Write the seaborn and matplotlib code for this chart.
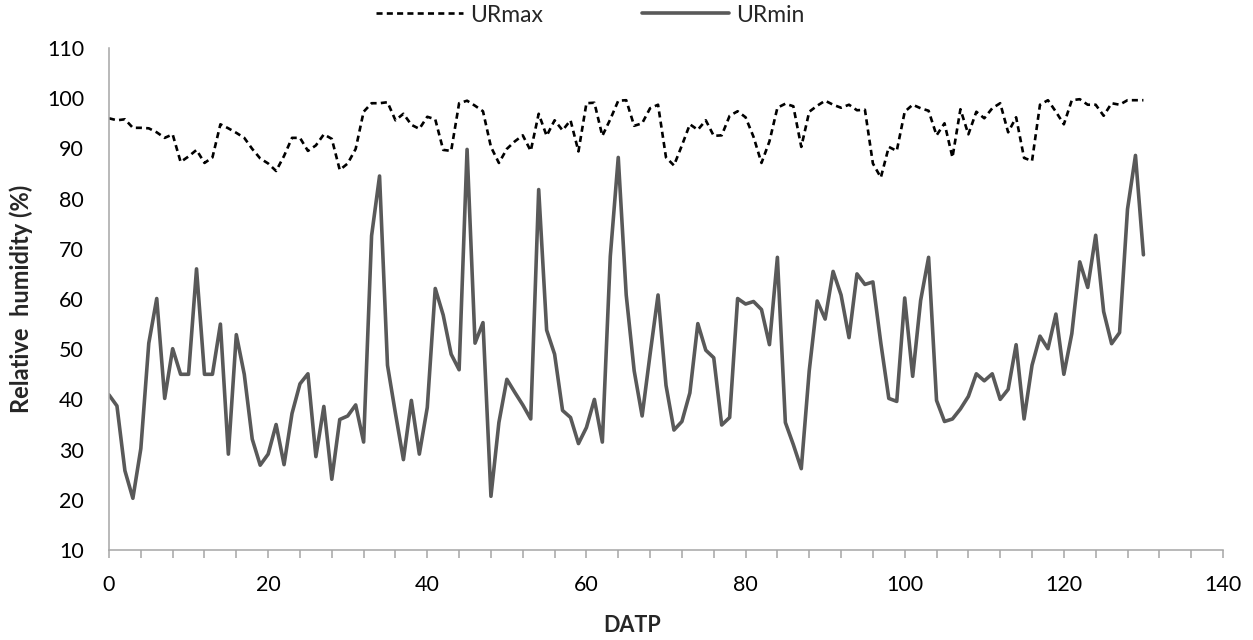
import numpy as np
import pandas as pd
import matplotlib
matplotlib.use("Agg")
import matplotlib.pyplot as plt
from matplotlib.ticker import MultipleLocator
import seaborn as sns

# days after transplanting
datp = list(range(0, 131))

ur_max = [
    96, 95.6, 95.8, 94.1, 94.1, 94, 93.2, 92.1, 92.8, 87.3,
    88.4, 89.7, 87.1, 88.2, 94.8, 94, 93.1, 92.1, 89.9, 88,
    87, 85.5, 88.5, 92.1, 92.1, 89.5, 90.6, 92.8, 91.9, 85.7,
    87, 89.9, 97.3, 99, 99, 99.2, 95.6, 96.9, 94.7, 93.9,
    96.3, 95.8, 89.7, 89.5, 99, 99.5, 98.5, 97.4, 90.3, 87.1,
    89.9, 91.4, 92.6, 89.5, 96.9, 92.5, 95.6, 93.6, 95.6, 89.4,
    99, 99.1, 92.5, 95.8, 99.5, 99.6, 94.5, 95, 98, 98.7,
    88.2, 86.6, 90.6, 94.8, 93.7, 95.6, 92.5, 92.6, 96.5, 97.4,
    96.2, 92.3, 87.1, 91.4, 98.1, 98.9, 98.4, 90.3, 97.3, 98.5,
    99.5, 98.7, 98.1, 98.7, 97.6, 97.7, 87, 84.2, 90.3, 89.5,
    97.3, 98.7, 98, 97.5, 92.6, 95, 88.2, 97.8, 92.8, 97.3,
    96, 98, 99, 93.2, 96.2, 88.1, 87.5, 98.7, 99.6, 97.3,
    94.8, 99.6, 99.8, 98.7, 98.7, 96.5, 99, 98.7, 99.6, 99.6,
    99.6,
]

ur_min = [
    40.9, 38.7, 25.8, 20.3, 30.2, 51.2, 60.1, 40.2, 50.1, 45,
    45, 66, 45, 45, 55, 29.1, 52.9, 45, 32.1, 26.9,
    29.1, 35, 27, 37.2, 43.1, 45.1, 28.6, 38.6, 24.1, 36,
    36.7, 38.9, 31.5, 72.6, 84.5, 46.8, 37.2, 28, 39.8, 29.1,
    38.4, 62.1, 56.8, 49, 45.9, 89.8, 51.2, 55.3, 20.7, 35.4,
    44, 41.4, 38.9, 36.1, 81.8, 53.8, 49, 37.8, 36.4, 31.2,
    34.4, 40, 31.5, 68.5, 88.2, 60.8, 45.7, 36.7, 49, 60.8,
    42.8, 33.9, 35.6, 41.3, 55.1, 49.8, 48.3, 34.9, 36.4, 60.1,
    59, 59.5, 57.9, 50.9, 68.3, 35.4, 31, 26.2, 45.7, 59.6,
    56, 65.5, 60.8, 52.3, 65, 62.9, 63.4, 51.2, 40.2, 39.6,
    60.2, 44.6, 59.7, 68.3, 39.8, 35.6, 36.1, 38.1, 40.6, 45.1,
    43.7, 45.1, 40, 42, 50.9, 36.1, 46.8, 52.6, 50.1, 57,
    45, 53.1, 67.4, 62.3, 72.7, 57.5, 51.1, 53.3, 77.9, 88.6,
    68.8,
]

df = pd.DataFrame({"DATP": datp, "URmax": ur_max, "URmin": ur_min})

sns.set_style("white")
plt.rcParams["font.family"] = ["Lato", "DejaVu Sans"]

fig = plt.figure(figsize=(12.53, 6.4), dpi=100)
ax = fig.add_axes([109 / 1253, 1 - 550 / 640, 1114 / 1253, 502 / 640])

sns.lineplot(data=df, x="DATP", y="URmax", ax=ax, color="black",
             linewidth=1.9, linestyle=(0, (2.3, 1.6)), label="URmax")
sns.lineplot(data=df, x="DATP", y="URmin", ax=ax, color="#595959",
             linewidth=2.6, label="URmin")

ax.set_xlim(0, 140)
ax.set_ylim(10, 110)
ax.xaxis.set_major_locator(MultipleLocator(20))
ax.xaxis.set_minor_locator(MultipleLocator(4))
ax.yaxis.set_major_locator(MultipleLocator(10))

for side in ["top", "right"]:
    ax.spines[side].set_visible(False)
for side in ["left", "bottom"]:
    ax.spines[side].set_color("#a6a6a6")
    ax.spines[side].set_linewidth(1.1)

ax.tick_params(axis="x", which="both", direction="out", length=6,
               color="#a6a6a6", width=1.1, bottom=True, pad=12)
ax.tick_params(axis="y", length=0, pad=18)
ax.tick_params(axis="both", labelsize=15.5, labelcolor="black")

ax.set_xlabel("DATP", fontsize=15.5, fontweight="bold")
ax.set_ylabel("Relative  humidity (%)", fontsize=17, fontweight="bold")
ax.xaxis.set_label_coords(0.47, -0.130)
ax.yaxis.set_label_coords(-0.068, 0.5)

ax.get_legend().remove()
handles, labels = ax.get_legend_handles_labels()
fig.legend(handles, labels, loc="center", bbox_to_anchor=(0.471, 1 - 15 / 640),
           ncol=2, frameon=False, fontsize=16.5, handlelength=3.8,
           columnspacing=4.3, handletextpad=0.3)

fig.savefig("out.png", dpi=100)
